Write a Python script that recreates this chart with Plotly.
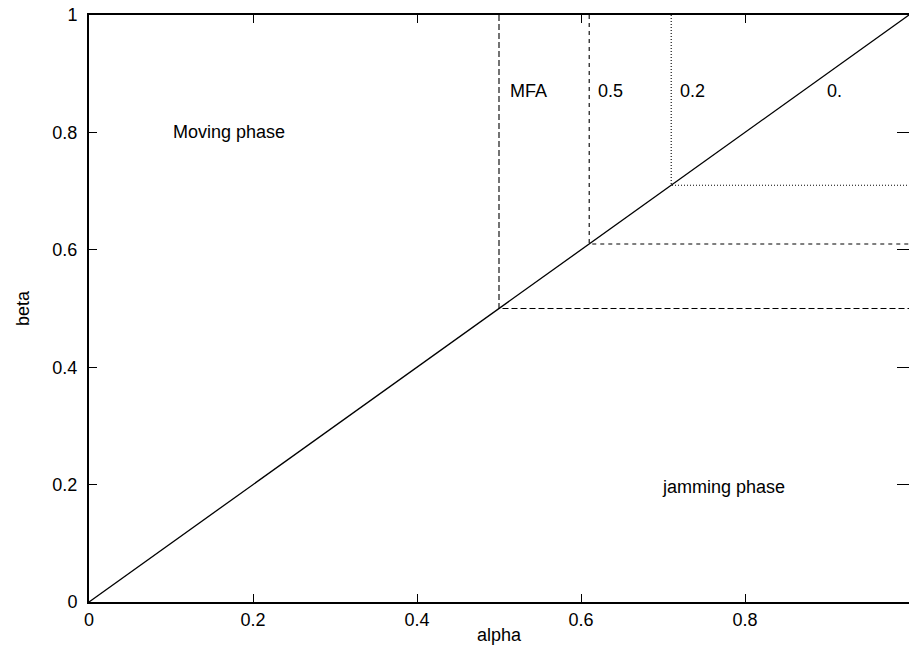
import plotly.graph_objects as go

# Phase boundary: alpha = beta diagonal
diag_alpha = [0.0, 1.0]
diag_beta = [0.0, 1.0]

# Critical points for each parameter value (alpha_c = beta_c)
curve_names = ["MFA", "0.5", "0.2"]
critical = [0.5, 0.61, 0.71]
curve_dash = ["6px,3px", "4px,4px", "1px,2px"]

# Labels of the regions
label_text = ["MFA", "0.5", "0.2", "0."]
label_alpha = [0.513, 0.621, 0.721, 0.9]
label_beta = [0.87, 0.87, 0.87, 0.87]

phase_text = ["Moving phase", "jamming phase"]
phase_alpha = [0.102, 0.699]
phase_beta = [0.80, 0.196]

xticks = [0, 0.2, 0.4, 0.6, 0.8, 1]
yticks = [0, 0.2, 0.4, 0.6, 0.8, 1]
ticklabels = ["0", "0.2", "0.4", "0.6", "0.8", "1"]

FONT = "Liberation Sans, Arial, sans-serif"
FS = 18

fig = go.Figure()

fig.add_trace(go.Scatter(x=diag_alpha, y=diag_beta, mode="lines",
                         line=dict(color="black", width=1.3), hoverinfo="skip"))

for name, c, dash in zip(curve_names, critical, curve_dash):
    fig.add_trace(go.Scatter(x=[c, c, 1.0], y=[1.0, c, c], mode="lines", name=name,
                             line=dict(color="black", width=1.1, dash=dash),
                             hoverinfo="skip"))

# invisible trace carrying the right-hand tick axis
fig.add_trace(go.Scatter(x=[0], y=[0], yaxis="y2", mode="markers",
                         marker=dict(opacity=0), hoverinfo="skip"))

for t, a, b in zip(label_text + phase_text, label_alpha + phase_alpha,
                   label_beta + phase_beta):
    fig.add_annotation(x=a, y=b, text=t, showarrow=False, xanchor="left",
                       yanchor="middle", xshift=-2,
                       font=dict(size=FS, color="black", family=FONT))

fig.update_layout(
    width=909, height=648,
    margin=dict(l=89, r=0, t=15, b=46),
    paper_bgcolor="white", plot_bgcolor="white",
    showlegend=False,
    font=dict(family=FONT, size=FS, color="black"),
    xaxis=dict(range=[0, 1], tickvals=xticks, ticktext=ticklabels,
               ticks="inside", ticklen=8, tickwidth=1.3, tickcolor="black",
               showline=True, linecolor="black", linewidth=2, mirror="ticks",
               showgrid=False, zeroline=False,
               title=dict(text="alpha", standoff=0, font=dict(size=FS))),
    yaxis=dict(range=[0, 1], tickvals=yticks, ticktext=ticklabels,
               ticks="inside", ticklen=8, tickwidth=1.3, tickcolor="black",
               showline=True, linecolor="black", linewidth=2,
               showgrid=False, zeroline=False, ticklabelstandoff=6,
               title=dict(text="beta", standoff=18, font=dict(size=FS))),
    yaxis2=dict(range=[0, 1], overlaying="y", side="right", anchor="x",
                tickvals=yticks, ticks="inside", ticklen=12, tickwidth=1.3,
                tickcolor="black", showticklabels=False, showline=False,
                showgrid=False, zeroline=False),
)

fig.write_html("out.html")
